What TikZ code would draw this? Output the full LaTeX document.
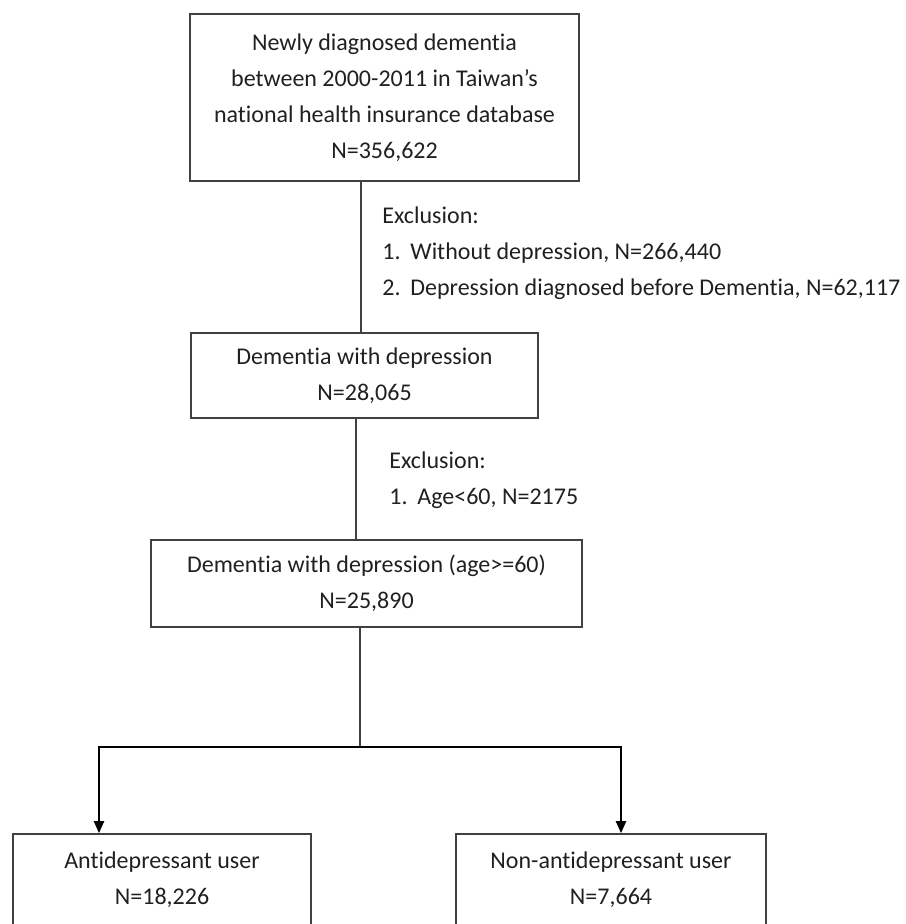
\documentclass[tikz,border=0pt]{standalone}
\usepackage{fontspec}
\setmainfont{Carlito}[Ligatures=NoCommon]
\usepackage{tikz}
\usepackage{xcolor}
\usetikzlibrary{arrows.meta}
\definecolor{boxgray}{HTML}{404040}
\definecolor{txtgray}{HTML}{202020}

\begin{document}
\begin{tikzpicture}[x=0.5pt,y=-0.5pt,>={Triangle[length=6pt,width=5pt]},
  box/.style={draw=boxgray,line width=0.8pt,align=center,text=txtgray,
    font=\fontsize{12}{18}\selectfont,inner sep=0pt},
  excl/.style={align=left,anchor=west,text=txtgray,inner sep=0pt,
    font=\fontsize{12}{18}\selectfont}]
  \useasboundingbox (0,0) rectangle (905,924);
  \node[box,minimum width=194.5pt,minimum height=83.5pt] (base) at (384.5,97.5)
    {Newly diagnosed dementia\\between 2000-2011 in Taiwan’s\\national health insurance database\\N=356,622};
  \node[box,minimum width=173.5pt,minimum height=42.5pt] (dep) at (364.5,375.5)
    {Dementia with depression\\N=28,065};
  \node[box,minimum width=215.5pt,minimum height=43.5pt] (old) at (366.5,583.5)
    {Dementia with depression (age>=60)\\N=25,890};
  \node[box,minimum width=149pt,minimum height=46pt] (anti) at (162,880)
    {Antidepressant user\\N=18,226};
  \node[box,minimum width=155pt,minimum height=46pt] (non) at (611,880)
    {Non-antidepressant user\\N=7,664};

  % exclusion notes
  \node[excl] (ex1) at (382,253) {Exclusion:\\
    \makebox[14pt][l]{1.}Without depression, N=266,440\\
    \makebox[14pt][l]{2.}Depression diagnosed before Dementia, N=62,117};
  \node[excl] (ex2) at (389,480) {Exclusion:\\
    \makebox[14pt][l]{1.}Age<60, N=2175};

  % connectors
  \draw[boxgray,line width=0.8pt] (base.south -| 361,0) -- (dep.north -| 361,0);
  \draw[boxgray,line width=0.8pt] (dep.south -| 356,0) -- (old.north -| 356,0);
  \coordinate (split) at (360,747);
  \draw[boxgray,line width=0.8pt] (old.south -| 360,0) -- (split);
  \foreach \n/\x in {anti/99,non/621}
    \draw[->,line width=1pt] (split) -| (\n.north -| \x,0);
\end{tikzpicture}
\end{document}
